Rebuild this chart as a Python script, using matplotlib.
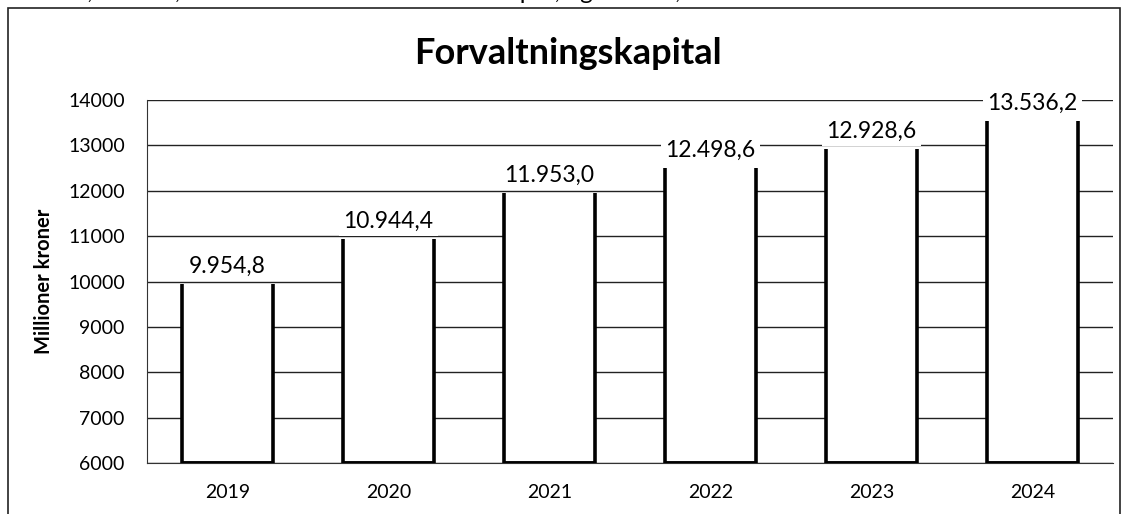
import matplotlib.pyplot as plt
from matplotlib.patches import Rectangle

plt.rcParams['font.family'] = ['Lato', 'DejaVu Sans']

# data
aar = ['2019', '2020', '2021', '2022', '2023', '2024']
kapital = [9954.8, 10944.4, 11953.0, 12498.6, 12928.6, 13536.2]
etiketter = ['9.954,8', '10.944,4', '11.953,0', '12.498,6', '12.928,6', '13.536,2']

fig = plt.figure(figsize=(11.29, 5.14), dpi=100)
ax = fig.add_axes([0.1302, 0.0992, 0.8556, 0.7062])

x = list(range(len(aar)))
bredde = 0.565
bunn = 6000

# hvite stolper som dekker rutenettet
ax.bar(x, [v - bunn for v in kapital], bottom=bunn, width=bredde,
       color='white', edgecolor='none', zorder=2)

# sider og bunn av stolpene (toppen er ikke tegnet)
for i, v in enumerate(kapital):
    ax.vlines([i - bredde / 2, i + bredde / 2], bunn, v, color='black', lw=2.6, zorder=3)
    ax.hlines(bunn, i - bredde / 2, i + bredde / 2, color='black', lw=2.8, zorder=3)
    ax.annotate(etiketter[i], (i, v), xytext=(0, 12.5), textcoords='offset points',
                ha='center', va='center', fontsize=16.5, zorder=4,
                bbox=dict(facecolor='white', edgecolor='none', pad=3))

ax.set_xlim(-0.5, len(aar) - 0.5)
ax.set_ylim(6000, 14000)
ax.set_yticks(range(6000, 14001, 1000))
ax.set_xticks(x)
ax.set_xticklabels(aar)
ax.tick_params(axis='both', length=0)
ax.tick_params(axis='y', pad=16, labelsize=14)
ax.tick_params(axis='x', pad=15, labelsize=14)

ax.yaxis.grid(True, color='#222222', lw=1)
ax.set_axisbelow(True)
for s in ['top', 'right']:
    ax.spines[s].set_visible(False)
ax.spines['left'].set_color('#333333')
ax.spines['bottom'].set_color('#333333')

ax.set_ylabel('Millioner kroner', fontsize=14.5, fontweight='bold', labelpad=10)

# tittel sentrert i rammen
fig.text(568 / 1129, 1 - 53 / 514, 'Forvaltningskapital', fontsize=26,
         fontweight='bold', ha='center', va='center')

# ramme rundt diagrammet
fig.patches.append(Rectangle((8 / 1129, -0.1), 1112 / 1129, 1.1 - 8 / 514,
                             transform=fig.transFigure, fill=False,
                             edgecolor='#222222', lw=1.2))

# avkuttet tekstlinje fra dokumentet over
fig.text(0.0, 1.014, 'av 2023, 11.677,0 millioner kroner for morselskapet, og 14.036,5 millioner kroner for konsernet.',
         fontsize=17.5, va='center', ha='left')

fig.savefig('out.png', dpi=100)
